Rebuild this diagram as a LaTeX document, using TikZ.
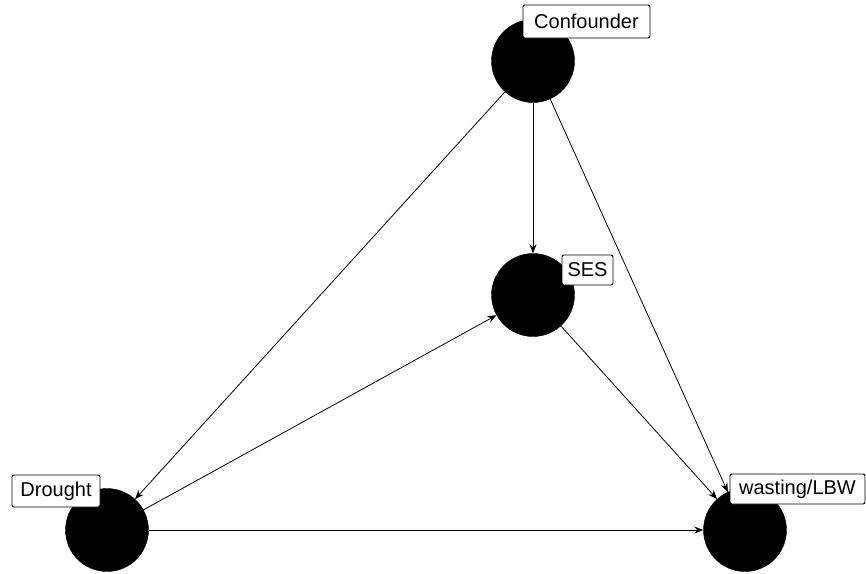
\documentclass[tikz,border=0pt]{standalone}
\usepackage{fontspec}
\setmainfont{Liberation Sans}
\usetikzlibrary{arrows.meta}
\begin{document}
\begin{tikzpicture}[x=1pt,y=-1pt,
  var/.style={circle,fill=black,draw=black,minimum size=83pt,inner sep=0pt},
  tag/.style={draw=black,fill=white,rounded corners=2pt,line width=0.9pt,
    inner sep=0pt,font=\fontsize{20}{24}\selectfont},
  edge/.style={line width=0.8pt,-{Stealth[length=9pt,width=7pt]}}]
\useasboundingbox (0,0) rectangle (866,573);
% variables
\node[var] (conf) at (533,61) {};
\node[var] (ses) at (533,295) {};
\node[var] (drought) at (107,530) {};
\node[var] (wast) at (745,530) {};
% causal arrows
\draw[edge] (conf) -- (ses);
\draw[edge] (conf) -- (drought);
\draw[edge] (conf) -- (wast);
\draw[edge] (ses) -- (wast);
\draw[edge] (drought) -- (ses);
\draw[edge] (drought) -- (wast);
% name tags
\node[tag,minimum width=127pt,minimum height=33pt] (lconf) at (586.5,21.5) {Confounder};
\node[tag,minimum width=51pt,minimum height=30pt] (lses) at (587.5,270) {SES};
\node[tag,minimum width=88pt,minimum height=32pt] (ldrought) at (56,491) {Drought};
\node[tag,minimum width=135pt,minimum height=30pt] (lwast) at (797.5,489) {wasting/LBW};
\end{tikzpicture}
\end{document}
